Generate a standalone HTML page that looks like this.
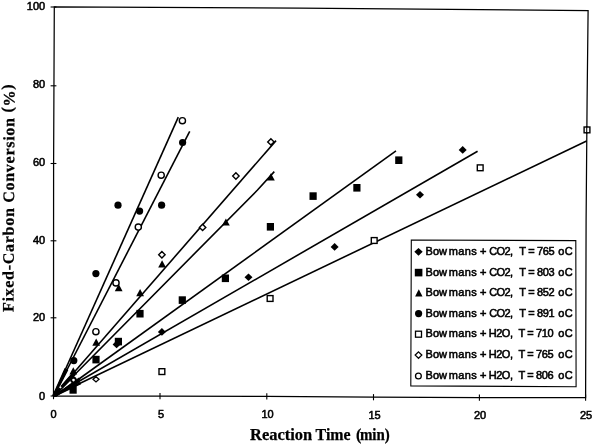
<!DOCTYPE html>
<html><head><meta charset="utf-8"><title>chart</title>
<style>html,body{margin:0;padding:0;background:#fff;}svg{display:block;will-change:transform;}text{font-family:"Liberation Sans",sans-serif;fill:#000;stroke:#000;stroke-width:0.55px;}.t{font-family:"Liberation Serif",serif;font-weight:bold;font-size:16px;stroke-width:0.25px;}.n{font-size:11px;}.l{font-size:11px;}</style>
</head><body>
<svg width="594" height="445" viewBox="0 0 594 445">
<rect width="594" height="445" fill="#fff"/>
<g fill="none" stroke="#000" stroke-width="1.25" stroke-linecap="square">
<path d="M54.3 6.8 L300 8.2 L588.1 10.6 L587.1 100 L586.1 220 L585.6 397.6 L480 397.6 L373 397 L267 396.3 L160 396 L53.5 396 L53.6 163 Z"/>
</g>
<g stroke="#000" stroke-width="1.1">
<path d="M53.5 393 V399.2"/>
<path d="M160 393 V399.2"/>
<path d="M266.8 393.3 V399.5"/>
<path d="M373.5 394.1 V400.3"/>
<path d="M479.4 394.6 V400.8"/>
<path d="M585.6 394.6 V400.8"/>
<path d="M50.6 7 H56.4"/>
<path d="M50.6 85.8 H56.4"/>
<path d="M50.6 163.5 H56.4"/>
<path d="M50.6 240.8 H56.4"/>
<path d="M50.6 317.8 H56.4"/>
<path d="M50.6 396 H56.4"/>
</g>
<g stroke="#000" stroke-width="1.6" stroke-linecap="butt" stroke-linejoin="round" fill="none">
<path d="M53.5 396 L178.3 117.2"/>
<path d="M53.5 396 L189.7 131.4"/>
<path d="M53.5 396 L276 140.6"/>
<path d="M53.5 396 L257.5 190 L274.3 171.6"/>
<path d="M55.3 396 L396 150.9"/>
<path d="M53.5 396 L477.6 151.3"/>
<path d="M53.5 396 L586.6 141"/>
</g>
<g stroke="#000" stroke-width="2.5" stroke-linecap="butt" fill="none">
<path d="M53.5 396 L65.76 368.62"/>
<path d="M53.5 396 L67.23 369.33"/>
<path d="M53.5 396 L73.21 373.38"/>
<path d="M53.5 396 L74.61 374.68"/>
<path d="M55.3 396 L79.65 378.48"/>
<path d="M53.5 396 L79.48 381.01"/>
<path d="M53.5 396 L80.56 383.05"/>
</g>
<g fill="#000" stroke="none">
<circle cx="73.8" cy="360.6" r="3.6"/>
<circle cx="95.9" cy="273.6" r="3.6"/>
<circle cx="118" cy="205.2" r="3.6"/>
<circle cx="139.6" cy="211.1" r="3.6"/>
<circle cx="161.6" cy="205.2" r="3.6"/>
<circle cx="182.6" cy="142.5" r="3.6"/>
<path d="M73.3 367.2 l3.9 7.2 h-7.8 z"/>
<path d="M96.2 338.5 l3.9 7.2 h-7.8 z"/>
<path d="M118.7 284.1 l3.9 7.2 h-7.8 z"/>
<path d="M140.1 289 l3.9 7.2 h-7.8 z"/>
<path d="M162.1 260.3 l3.9 7.2 h-7.8 z"/>
<path d="M225.9 218.4 l3.9 7.2 h-7.8 z"/>
<path d="M270.9 173.3 l3.9 7.2 h-7.8 z"/>
<rect x="69.5" y="386.1" width="7.2" height="7.6"/>
<rect x="92.4" y="355.8" width="7.2" height="7.6"/>
<rect x="114.8" y="337.8" width="7.2" height="7.6"/>
<rect x="136.4" y="309.9" width="7.2" height="7.6"/>
<rect x="178.7" y="296.3" width="7.2" height="7.6"/>
<rect x="221.8" y="274.5" width="7.2" height="7.6"/>
<rect x="266.8" y="223" width="7.2" height="7.6"/>
<rect x="309.5" y="192.3" width="7.2" height="7.6"/>
<rect x="353.3" y="184" width="7.2" height="7.6"/>
<rect x="395.2" y="156.4" width="7.2" height="7.6"/>
<path d="M161.9 328.1 l4 3.8 l-4 3.8 l-4 -3.8 z"/>
<path d="M248.5 273.5 l4 3.8 l-4 3.8 l-4 -3.8 z"/>
<path d="M334.6 243.1 l4 3.8 l-4 3.8 l-4 -3.8 z"/>
<path d="M420 191 l4 3.8 l-4 3.8 l-4 -3.8 z"/>
<path d="M462.7 146.1 l4 3.8 l-4 3.8 l-4 -3.8 z"/>
<path d="M116.6 340.6 l4 3.8 l-4 3.8 l-4 -3.8 z"/>
</g>
<g fill="#fff" stroke="#000" stroke-width="1.4">
<circle cx="95.9" cy="331.7" r="3.1"/>
<circle cx="116" cy="282.9" r="3.1"/>
<circle cx="138.3" cy="227.1" r="3.1"/>
<circle cx="161.2" cy="175.2" r="3.1"/>
<circle cx="182.4" cy="120.7" r="3.1"/>
<rect x="159" y="368.7" width="5.8" height="5.8"/>
<rect x="267.2" y="295.6" width="5.8" height="5.8"/>
<rect x="371.3" y="237.6" width="5.8" height="5.8"/>
<rect x="477.3" y="164.9" width="5.8" height="5.8"/>
<rect x="584.1" y="127" width="5.8" height="5.8"/>
<circle cx="73.5" cy="380.1" r="2.3" stroke-width="1.9"/>
<path d="M96 376.7 l3 2.6 l-3 2.6 l-3 -2.6 z" stroke-width="1.3"/>
<path d="M60.4 386 l1.3 1.2 l-1.3 1.2 l-1.3 -1.2 z" stroke="none"/>
<path d="M161.9 251.6 l3.2 3.2 l-3.2 3.2 l-3.2 -3.2 z"/>
<path d="M202.6 224.2 l3.2 3.2 l-3.2 3.2 l-3.2 -3.2 z"/>
<path d="M235.9 172.8 l3.2 3.2 l-3.2 3.2 l-3.2 -3.2 z"/>
<path d="M270.9 138.7 l3.2 3.2 l-3.2 3.2 l-3.2 -3.2 z"/>
</g>
<path d="M586.75 126 L586.7 134" stroke="#000" stroke-width="1.1" fill="none"/>
<g class="n" text-anchor="end">
<text x="45.2" y="9.6">100</text>
<text x="45.2" y="88.2">80</text>
<text x="45.2" y="166.4">60</text>
<text x="45.2" y="243.9">40</text>
<text x="45.2" y="321.2">20</text>
<text x="45.2" y="399.8">0</text>
</g>
<g class="n" text-anchor="middle">
<text x="53.6" y="417.6">0</text>
<text x="161" y="417.7">5</text>
<text x="267.6" y="418">10</text>
<text x="374.6" y="418.6">15</text>
<text x="480" y="418.7">20</text>
<text x="586" y="419.4">25</text>
</g>
<text class="t" x="250.1" y="439.9" textLength="62" lengthAdjust="spacingAndGlyphs">Reaction</text>
<text class="t" x="315.6" y="439.9" textLength="35" lengthAdjust="spacingAndGlyphs">Time</text>
<text class="t" x="356.1" y="439.9">(</text>
<text class="t" x="359.9" y="439.9" textLength="29.9" lengthAdjust="spacingAndGlyphs">min)</text>
<text class="t" transform="translate(13.4 312.1) rotate(-89.7)" textLength="227.6" lengthAdjust="spacing">Fixed-Carbon Conversion <tspan dy="-2">(</tspan><tspan dy="2">%</tspan><tspan dy="-2">)</tspan></text>
<rect x="411.1" y="240.2" width="465" height="0" fill="none"/>
<path d="M411.3 240 L575.8 240.6 L576.1 386.7 L410.8 385.9 Z" fill="#fff" stroke="#000" stroke-width="1.1"/>
<g class="l">
<text x="425.6" y="254.9" >Bow</text>
<text x="448.7" y="254.9" letter-spacing="0.4">mans</text>
<text x="480.1" y="254.9">+</text>
<text x="489.3" y="254.9" letter-spacing="-0.65">CO2,</text>
<text x="519.3" y="254.9" textLength="35.2" lengthAdjust="spacing">T = 765</text>
<text x="558.2" y="254.9" letter-spacing="0.5">oC</text>
<text x="425.6" y="275.7" >Bow</text>
<text x="448.7" y="275.7" letter-spacing="0.4">mans</text>
<text x="480.1" y="275.7">+</text>
<text x="489.3" y="275.7" letter-spacing="-0.65">CO2,</text>
<text x="519.3" y="275.7" textLength="35.2" lengthAdjust="spacing">T = 803</text>
<text x="558.2" y="275.7" letter-spacing="0.5">oC</text>
<text x="425.6" y="296.1" >Bow</text>
<text x="448.7" y="296.1" letter-spacing="0.4">mans</text>
<text x="480.1" y="296.1">+</text>
<text x="489.3" y="296.1" letter-spacing="-0.65">CO2,</text>
<text x="519.3" y="296.1" textLength="35.2" lengthAdjust="spacing">T = 852</text>
<text x="558.2" y="296.1" letter-spacing="0.5">oC</text>
<text x="425.6" y="316.7" >Bow</text>
<text x="448.7" y="316.7" letter-spacing="0.4">mans</text>
<text x="480.1" y="316.7">+</text>
<text x="489.3" y="316.7" letter-spacing="-0.65">CO2,</text>
<text x="519.3" y="316.7" textLength="35.2" lengthAdjust="spacing">T = 891</text>
<text x="558.2" y="316.7" letter-spacing="0.5">oC</text>
<text x="425.6" y="337.3" >Bow</text>
<text x="448.7" y="337.3" letter-spacing="0.4">mans</text>
<text x="480.1" y="337.3">+</text>
<text x="488.7" y="337.3" letter-spacing="-0.45">H2O,</text>
<text x="518.4" y="337.3" textLength="35.2" lengthAdjust="spacing">T = 710</text>
<text x="558.2" y="337.3" letter-spacing="0.5">oC</text>
<text x="425.6" y="358.2" >Bow</text>
<text x="448.7" y="358.2" letter-spacing="0.4">mans</text>
<text x="480.1" y="358.2">+</text>
<text x="488.7" y="358.2" letter-spacing="-0.45">H2O,</text>
<text x="518.4" y="358.2" textLength="35.2" lengthAdjust="spacing">T = 765</text>
<text x="558.2" y="358.2" letter-spacing="0.5">oC</text>
<text x="425.6" y="379.1" >Bow</text>
<text x="448.7" y="379.1" letter-spacing="0.4">mans</text>
<text x="480.1" y="379.1">+</text>
<text x="488.7" y="379.1" letter-spacing="-0.45">H2O,</text>
<text x="518.4" y="379.1" textLength="35.2" lengthAdjust="spacing">T = 806</text>
<text x="558.2" y="379.1" letter-spacing="0.5">oC</text>
</g>
<g fill="#000">
<path d="M418.5 247.9 l4.2 3.9 l-4.2 3.9 l-4.2 -3.9 z"/>
<rect x="414.8" y="268.8" width="7.6" height="7.6"/>
<path d="M418.8 289.2 l3.7 7.2 h-7.4 z"/>
<circle cx="418.6" cy="313.6" r="3.6"/>
</g>
<g fill="#fff" stroke="#000" stroke-width="1.3">
<rect x="415.5" y="331.2" width="6" height="6"/>
<path d="M418.5 351.9 l3.3 3.2 l-3.3 3.2 l-3.3 -3.2 z"/>
<circle cx="418.4" cy="376" r="2.9"/>
</g>
</svg></body></html>
